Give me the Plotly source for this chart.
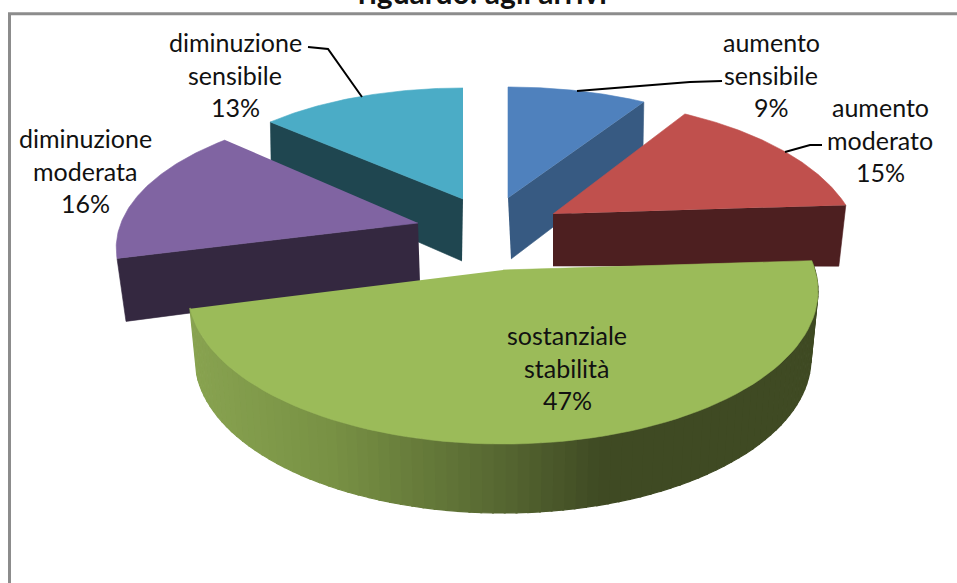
import numpy as np
import plotly.graph_objects as go

categories = ["aumento sensibile", "aumento moderato", "sostanziale stabilità",
              "diminuzione moderata", "diminuzione sensibile"]
values = [9, 15, 47, 16, 13]
title_text = "riguardo: agli arrivi"

top_colors = ["#4F81BD", "#C0504D", "#9BBB59", "#8064A2", "#4BACC6"]
side_colors = ["#375A82", "#4D1F20", None, "#342840", "#1F4650"]

# projection of each exploded slice: centre x, centre y, x radius, y radius, perspective
proj = [(508, 198, 292, 131, 0.18),
        (553, 214, 298, 143.5, 0.25),
        (503, 270, 312, 150, 0.138),
        (418, 223, 297, 136, 0.178),
        (463, 199, 272, 115.8, 0.043)]
# visible radial wall: which edge (0 start, 1 end), apex shift, rim shift
walls = [(1, (3, 61), (-1, 57)),
         (1, (0, 52), (-7, 61)),
         None,
         (0, (2, 60), (9, 63)),
         (0, (-1, 62), (1, 56))]
label_pos = [(771, 42), (880, 107), (567, 335), (85, 138), (235, 42)]
leaders = [[(577, 91), (690, 82), (722, 81)],
           [(785, 152), (810, 145), (822, 145)],
           None, None,
           [(362, 97), (328, 49), (308, 47)]]
LINE_H = 32.5
FONT = "Lato, Carlito, Calibri, sans-serif"
LABEL_SIZE = 25


def pt(theta, p):
    cx, cy, rx, ry, k = p
    u, v = np.sin(theta), np.cos(theta)
    s = 1 / (1 + k * v)
    return cx + rx * u * s, cy - ry * v * s


edges = np.radians(np.concatenate([[0], np.cumsum(values)]) / sum(values) * 360)
fig = go.Figure()


def poly(xs, ys, color, width=0.6):
    fig.add_trace(go.Scatter(x=xs, y=ys, mode="lines", fill="toself", fillcolor=color,
                             line=dict(color=color, width=width), hoverinfo="skip",
                             showlegend=False))


def draw_slice(i):
    p = proj[i]
    a, b = edges[i], edges[i + 1]
    if walls[i]:
        which, sa, sr = walls[i]
        rx, ry = pt(edges[i + which], p)
        poly([p[0], rx, rx + sr[0], p[0] + sa[0]],
             [p[1], ry, ry + sr[1], p[1] + sa[1]], side_colors[i])
    else:
        th = np.linspace(a, b, 90)
        stops = [(190, (136, 163, 80)), (330, (120, 145, 68)), (510, (84, 100, 48)),
                 (600, (63, 74, 35)), (820, (63, 74, 35))]
        for t0, t1 in zip(th[:-1], th[1:]):
            x0, y0 = pt(t0, p)
            x1, y1 = pt(t1 + 0.004, p)
            dx = lambda t: -7 * np.sin(t)
            dy = lambda t: 66 + 3 * abs(np.cos(t))
            xm = (x0 + x1) / 2
            rgb = [np.interp(xm, [s[0] for s in stops], [s[1][c] for s in stops]) for c in range(3)]
            col = "rgb(%d,%d,%d)" % tuple(round(c) for c in rgb)
            poly([x0, x1, x1 + dx(t1), x0 + dx(t0)],
                 [y0, y1, y1 + dy(t1), y0 + dy(t0)], col, width=1.2)
    th = np.linspace(a, b, 80)
    xs, ys = pt(th, p)
    poly(np.r_[p[0], xs], np.r_[p[1], ys], top_colors[i])


for i in [4, 0, 3, 1, 2]:
    draw_slice(i)

for path in leaders:
    if path:
        fig.add_trace(go.Scatter(x=[q[0] for q in path], y=[q[1] for q in path], mode="lines",
                                 line=dict(color="#000000", width=2), hoverinfo="skip",
                                 showlegend=False))

annotations = []
for cat, val, (lx, ly) in zip(categories, values, label_pos):
    for j, line in enumerate(cat.split(" ") + [f"{val}%"]):
        annotations.append(dict(x=lx, y=ly + j * LINE_H, text=line, showarrow=False,
                                xanchor="center", yanchor="middle",
                                font=dict(family=FONT, size=LABEL_SIZE, color="#111111")))
annotations.append(dict(x=482, y=0, yshift=8, text=f"<b>{title_text}</b>", showarrow=False,
                        xanchor="center", yanchor="middle",
                        font=dict(family=FONT, size=30, color="#111111")))

border = dict(type="line", line=dict(color="#8c8c8c", width=3))
shapes = [dict(border, x0=8, x1=957, y0=13.7, y1=13.7),
          dict(border, x0=9.5, x1=9.5, y0=13.7, y1=583)]

fig.update_layout(width=957, height=583, margin=dict(l=0, r=0, t=0, b=0),
                  paper_bgcolor="white", plot_bgcolor="white", showlegend=False,
                  annotations=annotations, shapes=shapes,
                  xaxis=dict(range=[0, 957], visible=False, fixedrange=True),
                  yaxis=dict(range=[583, 0], visible=False, fixedrange=True))
fig.write_html("out.html", config=dict(displayModeBar=False),
               post_script="document.body.style.margin='0';document.documentElement.style.overflow='hidden';")
